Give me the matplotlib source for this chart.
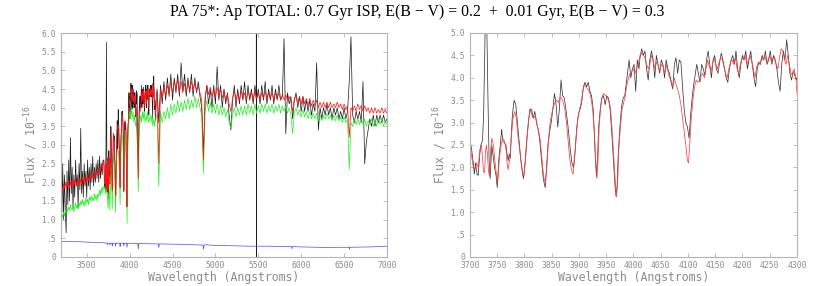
import numpy as np
import matplotlib.pyplot as plt
from matplotlib.ticker import FixedLocator, FuncFormatter

plt.rcParams['mathtext.fontset'] = 'custom'
plt.rcParams['mathtext.rm'] = 'DejaVu Sans Mono'
plt.rcParams['mathtext.it'] = 'DejaVu Sans Mono'

# ---------------- data (flux in 1e-16 units) ----------------
# blue end, 3200-3690 A every 10 A
wave_a = np.arange(3200, 3691, 10)
obs_a = [2.8, 1.2, 2.5, 1.0, 2.2, 1.3, 0.65, 2.3, 1.4, 2.6,
         1.5, 3.2, 1.7, 2.4, 1.3, 2.2, 1.6, 2.6, 1.9, 2.2,
         1.3, 2.5, 1.8, 3.45, 1.7, 2.3, 1.6, 2.5, 1.9, 2.3,
         1.6, 2.6, 1.9, 2.4, 1.8, 2.5, 2.0, 2.7, 1.9, 2.4,
         2.0, 2.5, 2.1, 2.6, 2.0, 2.7, 2.1, 2.5, 2.2, 2.6]
fit_a = [1.8, 1.9, 1.75, 1.95, 1.85, 2.0, 1.85, 2.0, 1.9, 2.05,
         1.85, 2.0, 1.9, 2.1, 1.85, 2.05, 1.95, 2.1, 1.9, 2.05,
         1.95, 2.1, 1.9, 2.1, 1.95, 2.15, 2.0, 2.1, 1.95, 2.15,
         2.0, 2.15, 2.05, 2.2, 2.05, 2.25, 2.1, 2.2, 2.1, 2.3,
         2.15, 2.3, 2.2, 2.35, 2.2, 2.4, 2.3, 2.5, 2.35, 2.55]
comp_a = [1.1, 1.15, 1.05, 1.2, 1.1, 1.25, 1.2, 1.3, 1.2, 1.35,
          1.25, 1.4, 1.3, 1.25, 1.4, 1.2, 1.35, 1.45, 1.3, 1.4,
          1.3, 1.45, 1.35, 1.5, 1.4, 1.55, 1.4, 1.5, 1.35, 1.6,
          1.45, 1.55, 1.4, 1.6, 1.5, 1.65, 1.5, 1.6, 1.5, 1.7,
          1.55, 1.65, 1.5, 1.7, 1.6, 1.8, 1.65, 1.85, 1.7, 1.9]

# 3700-4300 A (zoom panel), observed
obs_zoom = [(3700, 2.59), (3703, 2.4), (3706, 2.1), (3708, 1.85), (3710, 2.1), (3713, 1.85),
            (3715, 1.82), (3718, 2.3), (3720, 2.5), (3723, 2.6), (3725, 3.2), (3727, 4.5),
            (3728, 5.4), (3730, 5.75), (3731, 5.0), (3733, 3.5), (3735, 2.2), (3737, 1.75),
            (3740, 2.5), (3742, 2.3), (3745, 2.0), (3748, 1.8), (3750, 1.55), (3753, 2.2),
            (3756, 2.55), (3758, 2.85), (3760, 2.6), (3763, 2.55), (3766, 2.5), (3768, 2.3),
            (3770, 2.15), (3772, 2.3), (3774, 2.2), (3776, 2.8), (3778, 3.2), (3781, 3.5),
            (3784, 3.4), (3787, 3.0), (3790, 2.6), (3793, 2.2), (3796, 1.9), (3798, 1.75),
            (3801, 2.1), (3804, 2.6), (3807, 3.0), (3810, 3.3), (3813, 3.3), (3816, 3.1),
            (3819, 3.25), (3822, 3.0), (3825, 2.85), (3828, 2.6), (3831, 2.2), (3834, 1.8),
            (3836, 1.65), (3838, 1.55), (3840, 1.9), (3843, 2.5), (3846, 2.8), (3849, 3.0),
            (3852, 3.3), (3855, 3.65), (3858, 3.4), (3861, 2.9), (3864, 3.3), (3867, 3.95),
            (3870, 3.6), (3873, 3.55), (3876, 3.3), (3880, 2.9), (3884, 2.4), (3887, 2.1),
            (3890, 2.0), (3893, 2.4), (3896, 2.9), (3899, 3.2), (3902, 3.3), (3905, 3.45),
            (3908, 3.8), (3911, 3.9), (3914, 3.8), (3917, 3.9), (3920, 3.7), (3923, 3.6),
            (3926, 3.3), (3928, 2.8), (3930, 2.2), (3932, 1.8), (3934, 2.2), (3936, 2.9),
            (3939, 3.3), (3942, 3.55), (3945, 3.6), (3948, 3.4), (3951, 3.6), (3954, 3.55),
            (3957, 3.3), (3960, 2.8), (3963, 2.2), (3966, 1.6), (3968, 1.35), (3970, 1.6),
            (3972, 2.3), (3975, 2.9), (3978, 3.35), (3981, 3.55), (3984, 3.6), (3987, 3.9),
            (3990, 4.2), (3992, 4.4), (3995, 4.0), (3998, 4.2), (4001, 4.3), (4004, 3.7),
            (4007, 4.4), (4010, 4.2), (4012, 4.45), (4015, 4.65), (4018, 4.5), (4021, 4.6),
            (4024, 4.2), (4027, 3.95), (4030, 4.4), (4033, 4.6), (4036, 4.4), (4039, 4.0),
            (4042, 4.5), (4045, 4.3), (4048, 4.1), (4051, 4.4), (4054, 4.3), (4057, 4.0),
            (4060, 4.4), (4063, 4.2), (4066, 4.1), (4069, 3.9), (4072, 3.75), (4075, 4.3),
            (4078, 4.45), (4081, 4.1), (4084, 4.4), (4087, 4.35), (4090, 3.8), (4093, 3.3),
            (4096, 3.0), (4099, 2.9), (4102, 2.65), (4105, 3.2), (4108, 3.6), (4111, 3.9),
            (4113, 4.05), (4116, 4.3), (4119, 4.1), (4122, 3.9), (4125, 4.3), (4128, 4.2),
            (4131, 4.05), (4134, 4.4), (4137, 4.6), (4140, 4.3), (4143, 4.0), (4146, 4.4),
            (4149, 4.5), (4152, 4.2), (4155, 4.1), (4158, 4.35), (4161, 4.55), (4164, 4.4),
            (4167, 4.2), (4170, 4.0), (4173, 3.9), (4176, 4.2), (4179, 4.4), (4182, 4.5),
            (4185, 4.3), (4188, 4.6), (4191, 4.2), (4194, 4.0), (4197, 4.3), (4200, 4.5),
            (4203, 4.4), (4206, 4.6), (4209, 4.2), (4212, 4.4), (4215, 4.6), (4218, 4.3),
            (4221, 4.0), (4224, 3.8), (4227, 4.2), (4230, 4.35), (4233, 4.3), (4236, 4.5),
            (4239, 4.4), (4242, 4.6), (4245, 4.3), (4248, 4.4), (4251, 4.6), (4254, 4.3),
            (4257, 4.5), (4260, 4.4), (4263, 4.2), (4266, 3.9), (4269, 3.7), (4272, 4.3),
            (4275, 4.6), (4278, 4.4), (4281, 4.85), (4284, 4.5), (4287, 4.1), (4290, 3.95),
            (4293, 4.15), (4296, 4.05), (4299, 3.95), (4300, 4.0)]

# 3700-4300 A, fitted model (0.7 Gyr + 0.01 Gyr)
fit_zoom = [(3700, 2.45), (3703, 2.25), (3706, 2.0), (3709, 1.95), (3712, 2.1), (3715, 2.0),
            (3718, 2.4), (3721, 2.5), (3723, 2.2), (3725, 1.9), (3727, 1.88), (3728, 2.3),
            (3730, 2.5), (3732, 2.3), (3734, 1.9), (3736, 1.8), (3738, 2.4), (3740, 2.65),
            (3743, 2.5), (3746, 2.1), (3749, 1.8), (3751, 1.7), (3754, 2.2), (3757, 2.5),
            (3760, 2.65), (3763, 2.6), (3766, 2.4), (3768, 2.1), (3770, 1.95), (3773, 2.2),
            (3776, 2.7), (3779, 3.1), (3782, 3.25), (3785, 3.1), (3788, 2.7), (3791, 2.4),
            (3794, 2.1), (3797, 1.85), (3799, 1.8), (3802, 2.2), (3805, 2.7), (3808, 3.1),
            (3811, 3.3), (3814, 3.15), (3817, 3.1), (3820, 3.15), (3823, 2.95), (3826, 2.8),
            (3829, 2.6), (3832, 2.2), (3835, 1.8), (3838, 1.65), (3841, 2.0), (3844, 2.6),
            (3847, 3.0), (3850, 3.2), (3853, 3.35), (3856, 3.45), (3859, 3.5), (3862, 3.45),
            (3865, 3.55), (3868, 3.55), (3871, 3.45), (3874, 3.3), (3877, 3.0), (3880, 2.6),
            (3883, 2.2), (3886, 1.95), (3889, 1.85), (3892, 2.2), (3895, 2.7), (3898, 3.1),
            (3901, 3.3), (3904, 3.45), (3907, 3.7), (3910, 3.85), (3913, 3.8), (3916, 3.75),
            (3919, 3.7), (3922, 3.55), (3925, 3.3), (3928, 2.8), (3931, 2.1), (3933, 1.75),
            (3935, 2.2), (3937, 2.9), (3940, 3.4), (3943, 3.6), (3946, 3.65), (3949, 3.6),
            (3952, 3.55), (3955, 3.5), (3958, 3.3), (3961, 2.8), (3964, 2.2), (3967, 1.6),
            (3969, 1.35), (3971, 1.7), (3973, 2.4), (3976, 2.9), (3979, 3.3), (3982, 3.45),
            (3985, 3.6), (3988, 3.85), (3991, 4.0), (3994, 4.1), (3997, 4.15), (4000, 4.2),
            (4003, 4.1), (4006, 4.25), (4009, 4.3), (4012, 4.5), (4015, 4.55), (4018, 4.5),
            (4021, 4.45), (4024, 4.3), (4027, 4.2), (4030, 4.3), (4033, 4.5), (4036, 4.4),
            (4039, 4.2), (4042, 4.35), (4045, 4.3), (4048, 4.15), (4051, 4.3), (4054, 4.25),
            (4057, 4.1), (4060, 4.3), (4063, 4.15), (4066, 4.0), (4069, 3.95), (4072, 3.8),
            (4075, 4.0), (4078, 3.85), (4081, 3.75), (4084, 3.6), (4087, 3.4), (4090, 3.1),
            (4093, 2.8), (4096, 2.5), (4099, 2.15), (4101, 2.1), (4103, 2.5), (4106, 3.1),
            (4109, 3.5), (4112, 3.8), (4115, 3.95), (4118, 3.9), (4121, 3.95), (4124, 4.05),
            (4127, 4.1), (4130, 4.0), (4133, 4.2), (4136, 4.4), (4139, 4.25), (4142, 4.15),
            (4145, 4.3), (4148, 4.45), (4151, 4.3), (4154, 4.2), (4157, 4.35), (4160, 4.45),
            (4163, 4.4), (4166, 4.25), (4169, 4.1), (4172, 4.0), (4175, 4.2), (4178, 4.35),
            (4181, 4.4), (4184, 4.3), (4187, 4.45), (4190, 4.2), (4193, 4.1), (4196, 4.3),
            (4199, 4.45), (4202, 4.4), (4205, 4.5), (4208, 4.3), (4211, 4.4), (4214, 4.5),
            (4217, 4.35), (4220, 4.2), (4223, 4.0), (4226, 4.25), (4229, 4.35), (4232, 4.3),
            (4235, 4.45), (4238, 4.4), (4241, 4.5), (4244, 4.35), (4247, 4.4), (4250, 4.5),
            (4253, 4.35), (4256, 4.45), (4259, 4.4), (4262, 4.3), (4265, 4.2), (4268, 4.45),
            (4271, 4.65), (4274, 4.6), (4277, 4.4), (4280, 4.3), (4283, 4.5), (4286, 4.3),
            (4289, 4.1), (4292, 4.05), (4295, 4.2), (4298, 4.0), (4300, 3.65)]

# 3700-4300 A, second (green) model, only shown on the full range
comp_zoom = [(3700, 1.8), (3710, 1.9), (3720, 1.7), (3730, 1.9), (3740, 1.6), (3750, 1.3),
             (3760, 2.0), (3770, 1.25), (3780, 2.4), (3790, 2.0), (3798, 1.3), (3805, 2.5),
             (3815, 2.7), (3825, 2.4), (3835, 1.2), (3845, 2.6), (3860, 2.9), (3870, 2.8),
             (3880, 2.3), (3889, 1.4), (3900, 3.0), (3910, 3.3), (3920, 3.1), (3933, 2.5),
             (3945, 3.3), (3955, 3.4), (3962, 2.5), (3970, 0.9), (3978, 2.8), (3990, 3.6),
             (4000, 3.9), (4010, 3.7), (4020, 4.0), (4030, 3.7), (4040, 3.9), (4050, 3.6),
             (4060, 3.8), (4070, 3.5), (4080, 3.6), (4090, 3.0), (4101, 1.75), (4110, 3.2),
             (4120, 3.6), (4130, 3.8), (4140, 3.6), (4150, 3.9), (4160, 3.7), (4170, 3.9),
             (4180, 3.6), (4190, 3.8), (4200, 3.65), (4210, 3.9), (4220, 3.6), (4230, 3.7),
             (4240, 3.8), (4250, 3.6), (4260, 3.8), (4270, 3.5), (4280, 3.7), (4290, 3.5),
             (4300, 3.7)]

# red end, 4320-7000 A every 20 A
wave_c = np.arange(4320, 7001, 20)
obs_c = [4.5, 3.6, 4.6, 4.1, 4.7, 4.2, 4.8, 4.3, 4.9, 4.2,
         4.8, 4.4, 4.9, 4.3, 5.2, 4.4, 4.9, 4.3, 4.8, 4.4,
         4.9, 4.3, 4.8, 4.4, 4.7, 4.3, 4.0, 2.8, 4.2, 4.6,
         4.1, 4.5, 4.0, 4.6, 4.1, 5.1, 4.2, 4.6, 4.0, 4.5,
         4.1, 4.4, 3.8, 3.4, 4.2, 4.6, 4.0, 4.5, 4.1, 4.6,
         4.2, 4.7, 4.1, 4.6, 4.2, 4.5, 4.1, 4.6, 4.2, 4.5,
         4.1, 4.6, 4.2, 4.7, 4.1, 4.5, 4.2, 4.6, 4.1, 4.5,
         4.2, 4.6, 4.2, 4.3, 5.85, 3.3, 4.4, 4.1, 4.3, 3.7,
         4.2, 4.4, 4.0, 4.3, 3.9, 4.3, 3.9, 4.2, 3.9, 4.2,
         3.8, 4.1, 3.9, 5.2, 3.4, 4.0, 3.7, 4.0, 3.8, 4.1,
         3.8, 4.0, 3.7, 4.0, 3.8, 4.0, 3.7, 3.9, 3.7, 4.0,
         3.7, 3.9, 4.7, 5.9, 3.8, 3.6, 3.9, 3.7, 3.9, 3.6,
         4.7, 2.5, 3.1, 3.4, 3.7, 3.5, 3.8, 3.5, 3.8, 3.6,
         3.8, 3.6, 3.8, 3.6, 3.7]
fit_c = [4.4, 2.5, 4.5, 4.3, 4.6, 4.3, 4.6, 4.4, 4.7, 4.4,
         4.7, 4.5, 4.75, 4.4, 4.7, 4.45, 4.65, 4.4, 4.7, 4.45,
         4.7, 4.5, 4.65, 4.45, 4.6, 4.4, 4.2, 2.6, 4.3, 4.6,
         4.35, 4.55, 4.3, 4.5, 4.3, 4.55, 4.3, 4.5, 4.25, 4.45,
         4.2, 4.35, 4.1, 3.9, 4.25, 4.45, 4.2, 4.4, 4.2, 4.45,
         4.25, 4.4, 4.2, 4.45, 4.25, 4.4, 4.2, 4.45, 4.25, 4.4,
         4.2, 4.4, 4.25, 4.45, 4.2, 4.4, 4.25, 4.4, 4.2, 4.4,
         4.25, 4.4, 4.2, 4.35, 4.2, 4.35, 4.2, 4.3, 4.15, 3.9,
         4.25, 4.3, 4.15, 4.3, 4.1, 4.3, 4.1, 4.25, 4.05, 4.25,
         4.05, 4.2, 4.05, 4.2, 4.0, 4.15, 4.0, 4.15, 4.0, 4.15,
         4.0, 4.15, 4.0, 4.1, 4.0, 4.15, 4.0, 4.1, 3.95, 4.1,
         3.95, 4.05, 3.2, 4.0, 3.9, 4.05, 3.9, 4.1, 3.95, 4.05,
         3.9, 4.05, 3.9, 4.0, 3.85, 4.0, 3.85, 4.0, 3.85, 3.95,
         3.85, 4.0, 3.85, 3.95, 3.85]
comp_c = [3.8, 1.9, 3.9, 3.6, 3.9, 3.7, 4.0, 3.7, 4.1, 3.8,
          4.1, 3.85, 4.2, 3.9, 4.15, 3.9, 4.2, 3.95, 4.25, 3.95,
          4.2, 4.0, 4.3, 4.0, 4.25, 4.0, 3.8, 2.25, 3.9, 4.2,
          3.9, 4.15, 3.85, 4.1, 3.85, 4.1, 3.8, 4.05, 3.8, 4.0,
          3.75, 3.95, 3.6, 3.45, 3.8, 4.0, 3.75, 4.0, 3.8, 4.05,
          3.8, 4.05, 3.8, 4.1, 3.85, 4.05, 3.8, 4.1, 3.85, 4.05,
          3.85, 4.1, 3.9, 4.1, 3.85, 4.05, 3.9, 4.1, 3.85, 4.05,
          3.9, 4.1, 3.85, 4.05, 3.9, 4.05, 3.85, 4.0, 3.8, 3.3,
          3.85, 4.0, 3.8, 3.95, 3.75, 3.95, 3.75, 3.9, 3.7, 3.9,
          3.7, 3.85, 3.7, 3.85, 3.65, 3.8, 3.65, 3.8, 3.7, 3.85,
          3.7, 3.8, 3.65, 3.8, 3.65, 3.8, 3.65, 3.75, 3.6, 3.75,
          3.6, 3.7, 2.35, 3.6, 3.5, 3.7, 3.55, 3.7, 3.55, 3.7,
          3.55, 3.7, 3.5, 3.65, 3.55, 3.7, 3.5, 3.65, 3.5, 3.7,
          3.55, 3.7, 3.5, 3.65, 3.55]

# bad pixel near 5477 A in the observed spectrum
bad_pix = [(5476, 4.2), (5477, 9.0), (5478, -2.0), (5479, 4.3)]

# error spectrum (blue)
err = [(3200, 0.42), (3300, 0.41), (3400, 0.41), (3500, 0.40), (3600, 0.39), (3700, 0.38),
       (3735, 0.37), (3740, 0.33), (3745, 0.37), (3766, 0.37), (3770, 0.32), (3775, 0.37),
       (3794, 0.37), (3798, 0.30), (3802, 0.37), (3831, 0.37), (3835, 0.29), (3840, 0.37),
       (3885, 0.37), (3889, 0.28), (3893, 0.37), (3929, 0.37), (3933, 0.31), (3937, 0.37),
       (3964, 0.37), (3969, 0.26), (3974, 0.37), (4095, 0.36), (4101, 0.22), (4107, 0.36),
       (4335, 0.35), (4340, 0.25), (4345, 0.35), (4600, 0.34), (4855, 0.32), (4861, 0.21),
       (4868, 0.31), (4880, 0.33), (5000, 0.31), (5200, 0.30), (5400, 0.29), (5600, 0.29),
       (5800, 0.28), (5888, 0.28), (5893, 0.22), (5898, 0.28), (6000, 0.27), (6200, 0.26),
       (6300, 0.25), (6400, 0.26), (6558, 0.26), (6563, 0.21), (6568, 0.26), (6800, 0.27),
       (7000, 0.29)]

title = 'PA 75*: Ap TOTAL: 0.7 Gyr ISP, E(B \u2212 V) = 0.2  +  0.01 Gyr, E(B \u2212 V) = 0.3'

# ---------------- assemble ----------------
zw_obs, zf_obs = map(np.array, zip(*obs_zoom))
zw_fit, zf_fit = map(np.array, zip(*fit_zoom))
zw_comp, zf_comp = map(np.array, zip(*comp_zoom))
bw, bf = map(np.array, zip(*bad_pix))
ew, ef = map(np.array, zip(*err))

full_obs_w = np.concatenate([wave_a, zw_obs, wave_c, bw])
full_obs_f = np.concatenate([obs_a, zf_obs, obs_c, bf])
order = np.argsort(full_obs_w, kind='stable')
full_obs_w, full_obs_f = full_obs_w[order], full_obs_f[order]
full_fit_w = np.concatenate([wave_a, zw_fit, wave_c])
full_fit_f = np.concatenate([fit_a, zf_fit, fit_c])
full_comp_w = np.concatenate([wave_a, zw_comp, wave_c])
full_comp_f = np.concatenate([comp_a, zf_comp, comp_c])

# ---------------- plot ----------------
frame_col = '#b4b4b4'
text_col = '#8c8c8c'
mono = 'DejaVu Sans Mono'

W, H = 817, 286
fig = plt.figure(figsize=(W / 100, H / 100), dpi=100)
axL = fig.add_axes([61 / W, 29 / H, 326 / W, 224 / H])
axR = fig.add_axes([470 / W, 29 / H, 327 / W, 224 / H])


def ylab(v, pos):
    if abs(v) < 1e-9:
        return '0'
    if abs(v - 0.5) < 1e-9:
        return '.5'
    return '%.1f' % v


def style(ax, xticks, ymax):
    for s in ax.spines.values():
        s.set_color(frame_col)
        s.set_linewidth(0.8)
    ax.xaxis.set_major_locator(FixedLocator(xticks))
    ax.yaxis.set_major_locator(FixedLocator(np.arange(0, ymax + 0.01, 0.5)))
    ax.yaxis.set_major_formatter(FuncFormatter(ylab))
    ax.tick_params(direction='in', top=True, right=True, length=3, width=0.6,
                   color=frame_col, labelcolor=text_col, labelsize=5.8)
    ax.tick_params(axis='x', pad=3)
    ax.tick_params(axis='y', pad=3.5)
    for lab in ax.get_xticklabels() + ax.get_yticklabels():
        lab.set_family(mono)
    ax.set_xlabel('Wavelength (Angstroms)', family=mono, color=text_col, fontsize=8.3)
    ax.set_ylabel('Flux / 10$^{-16}$', family=mono, color=text_col, fontsize=8.3)
    ax.xaxis.set_label_coords(0.5, -0.092)
    ax.xaxis.label.set_va('center')
    ax.yaxis.set_label_coords(-0.09, 0.5)
    ax.yaxis.label.set_va('center')


axL.plot(full_obs_w, full_obs_f, color='#1a1a1a', lw=0.5)
axL.plot(full_comp_w, full_comp_f, color='#22ee22', lw=0.5)
axL.plot(full_fit_w, full_fit_f, color='#ff1010', lw=0.5)
axL.plot(ew, ef, color='#4a4aff', lw=0.5)
axL.set_xlim(3200, 7000)
axL.set_ylim(0, 6.0)
style(axL, np.arange(3500, 7001, 500), 6.0)

axR.plot(zw_obs, zf_obs, color='#3a3a3a', lw=0.55)
axR.plot(zw_fit, zf_fit, color='#ff4040', lw=0.55)
axR.set_xlim(3700, 4300)
axR.set_ylim(0, 5.0)
style(axR, np.arange(3700, 4301, 50), 5.0)

fig.text(0.511, 0.957, title, family='Liberation Serif', fontsize=11.3, ha='center', va='center')

fig.savefig('out.png', dpi=100)
